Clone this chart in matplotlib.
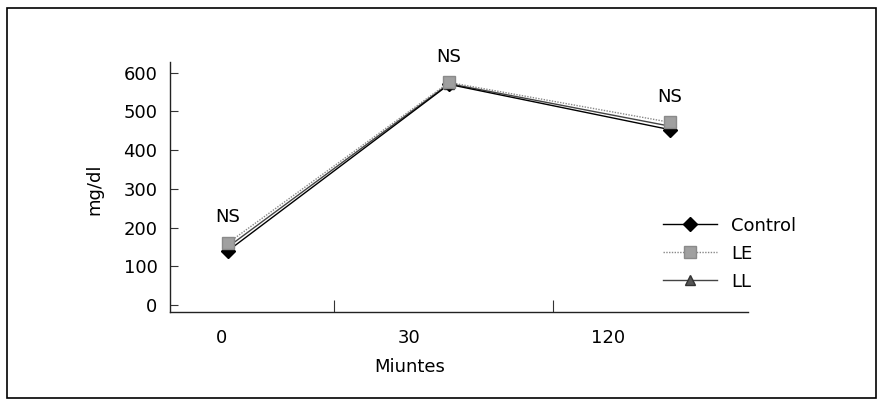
import matplotlib.pyplot as plt
import numpy as np
from matplotlib.patches import Rectangle

plt.rcParams["font.family"] = ["DejaVu Sans"]

# data
times = ["0", "30", "120"]
control = [140, 570, 453]
le = [160, 575, 472]
ll = [150, 572, 462]
ns_labels = ["NS", "NS", "NS"]

fs = 13

fig = plt.figure(figsize=(8.84, 4.04), dpi=100)
ax = fig.add_axes([0.1923, 0.2277, 0.654, 0.619])

x = np.arange(len(times))

ax.plot(x, control, color="black", lw=1.0, marker="D", ms=7, mfc="black",
        mec="black", label="Control", zorder=3)
ax.plot(x, le, color="#888888", lw=1.0, ls=(0, (1, 1)), marker="s", ms=8,
        mfc="#a0a0a0", mec="#8a8a8a", label="LE", zorder=4)
ax.plot(x, ll, color="#444444", lw=1.0, marker="^", ms=7, mfc="#555555",
        mec="#333333", label="LL", zorder=2)

# NS labels above each time point
for xi, yi, t in zip(x, le, ns_labels):
    ax.annotate(t, (xi, yi), xytext=(0, 12), textcoords="offset points",
                ha="center", va="bottom", fontsize=fs)

ax.set_xlim(-0.262, 2.353)
ax.set_ylim(-18, 628)
ax.set_yticks([0, 100, 200, 300, 400, 500, 600])

# category labels sit a bit left of the points, like the original
ax.set_xticks(x + np.array([-0.03, -0.18, -0.28]))
ax.set_xticklabels(times)
ax.set_xticks([0.48, 1.47], minor=True)
ax.tick_params(axis="x", which="major", length=0, pad=12, labelsize=fs)
ax.tick_params(axis="x", which="minor", direction="in", length=9,
               width=0.8, color="#333333")
ax.tick_params(axis="y", which="major", direction="in", length=6,
               width=0.8, color="#333333", pad=9, labelsize=fs)

for side in ["top", "right"]:
    ax.spines[side].set_visible(False)
for side in ["left", "bottom"]:
    ax.spines[side].set_linestyle((0, (1, 1)))
    ax.spines[side].set_linewidth(1.0)
    ax.spines[side].set_color("#222222")

ax.set_ylabel("mg/dl", fontsize=fs)
ax.yaxis.set_label_coords(-0.115, 0.49)
ax.set_xlabel("Miuntes", fontsize=fs)
ax.xaxis.set_label_coords((410 - 170) / 578, -0.185)

ax.legend(loc="upper left", bbox_to_anchor=(0.84, 0.41), frameon=False,
          fontsize=fs, handlelength=3.0, handletextpad=0.8,
          labelspacing=0.55, borderaxespad=0)

# outer frame
fig.patches.append(Rectangle((0.008, 0.015), 0.983, 0.965,
                             transform=fig.transFigure, fill=False,
                             lw=1.2, ec="black"))

fig.savefig("out.png", dpi=100)
